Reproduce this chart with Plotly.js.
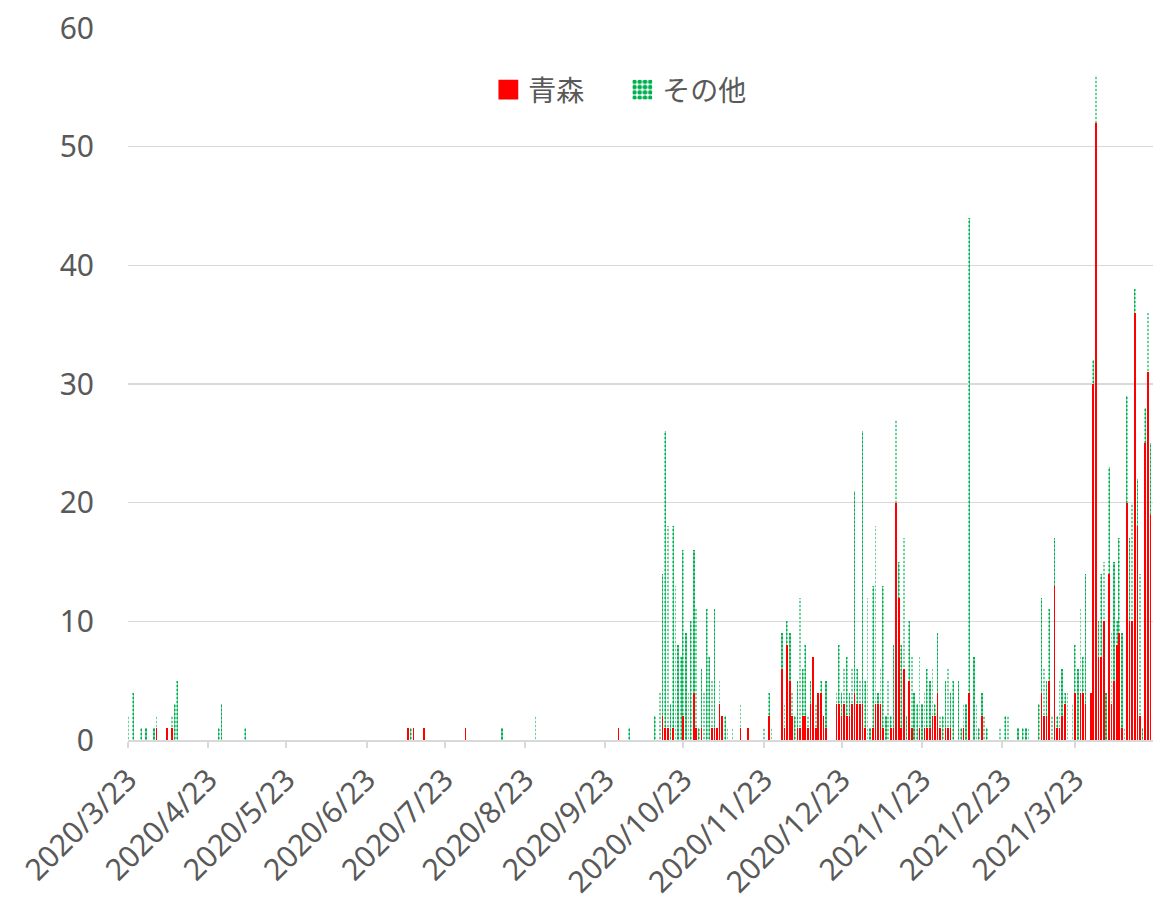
<!DOCTYPE html>
<html>
<head>
<meta charset="utf-8">
<script src="https://cdn.plot.ly/plotly-3.0.1.min.js"></script>
<style>
  html, body { margin: 0; padding: 0; background: #ffffff; }
  #chart { width: 1153px; height: 905px; }
</style>
</head>
<body>
<div id="chart"></div>
<script>
// Days with cases (all other days are zero)
const dates = [
  '2020-03-23','2020-03-25','2020-03-28','2020-03-30','2020-04-02','2020-04-03','2020-04-07','2020-04-09','2020-04-10','2020-04-11',
  '2020-04-27','2020-04-28','2020-05-07','2020-07-09','2020-07-10','2020-07-11','2020-07-15','2020-07-31','2020-08-14','2020-08-27',
  '2020-09-28','2020-10-02','2020-10-12','2020-10-14','2020-10-15','2020-10-16','2020-10-17','2020-10-18','2020-10-19','2020-10-20',
  '2020-10-21','2020-10-22','2020-10-23','2020-10-24','2020-10-25','2020-10-26','2020-10-27','2020-10-28','2020-10-29','2020-10-30',
  '2020-10-31','2020-11-01','2020-11-02','2020-11-03','2020-11-04','2020-11-05','2020-11-06','2020-11-07','2020-11-08','2020-11-09',
  '2020-11-11','2020-11-14','2020-11-17','2020-11-23','2020-11-25','2020-11-26','2020-11-30','2020-12-01','2020-12-02','2020-12-03',
  '2020-12-04','2020-12-05','2020-12-06','2020-12-07','2020-12-08','2020-12-09','2020-12-10','2020-12-11','2020-12-12','2020-12-13',
  '2020-12-14','2020-12-15','2020-12-16','2020-12-17','2020-12-21','2020-12-22','2020-12-23','2020-12-24','2020-12-25','2020-12-26',
  '2020-12-27','2020-12-28','2020-12-29','2020-12-30','2020-12-31','2021-01-01','2021-01-02','2021-01-03','2021-01-04','2021-01-05',
  '2021-01-06','2021-01-07','2021-01-08','2021-01-09','2021-01-10','2021-01-11','2021-01-12','2021-01-13','2021-01-14','2021-01-15',
  '2021-01-16','2021-01-17','2021-01-18','2021-01-19','2021-01-20','2021-01-21','2021-01-22','2021-01-23','2021-01-24','2021-01-25',
  '2021-01-26','2021-01-27','2021-01-28','2021-01-29','2021-01-30','2021-01-31','2021-02-01','2021-02-02','2021-02-03','2021-02-04',
  '2021-02-06','2021-02-07','2021-02-08','2021-02-09','2021-02-10','2021-02-12','2021-02-13','2021-02-14','2021-02-15','2021-02-16',
  '2021-02-17','2021-02-22','2021-02-24','2021-02-25','2021-03-01','2021-03-03','2021-03-04','2021-03-05','2021-03-09','2021-03-10',
  '2021-03-11','2021-03-12','2021-03-13','2021-03-14','2021-03-15','2021-03-16','2021-03-17','2021-03-18','2021-03-19','2021-03-20',
  '2021-03-22','2021-03-23','2021-03-24','2021-03-25','2021-03-26','2021-03-27','2021-03-29','2021-03-30','2021-03-31','2021-04-01',
  '2021-04-02','2021-04-03','2021-04-04','2021-04-05','2021-04-06','2021-04-07','2021-04-08','2021-04-09','2021-04-10','2021-04-11',
  '2021-04-12','2021-04-13','2021-04-14','2021-04-15','2021-04-16','2021-04-17','2021-04-18','2021-04-19','2021-04-20','2021-04-21'
];

// 青森
const aomori = [
  0,0,0,0,0,1,1,1,0,0,
  0,0,0,1,0,1,1,1,0,0,
  1,0,0,0,2,1,1,0,1,0,
  0,0,2,0,0,0,4,1,0,1,
  0,0,0,1,1,1,3,2,0,0,
  0,1,1,0,2,0,6,1,8,5,
  2,0,1,1,2,2,1,3,7,1,
  4,4,2,1,3,3,2,3,2,2,
  3,4,3,3,3,1,0,0,1,3,
  3,3,1,0,0,1,1,20,12,1,
  6,0,5,1,0,0,1,0,1,1,
  1,2,2,4,1,0,1,1,1,0,
  0,0,1,0,4,0,0,0,2,0,
  0,0,0,0,0,0,0,0,0,4,
  2,2,5,0,13,1,1,2,3,0,
  0,4,0,4,4,3,4,30,52,7,
  7,10,0,14,3,5,8,9,1,0,
  20,10,10,36,18,2,0,25,31,19
];

// その他
const other = [
  2,4,1,1,1,1,0,1,3,5,
  1,3,1,0,1,0,0,0,1,2,
  0,1,2,4,12,25,17,3,17,13,
  8,7,14,9,4,10,12,10,1,5,
  4,11,7,4,10,0,2,0,2,1,
  1,2,0,1,2,1,3,2,2,4,
  2,2,4,11,4,6,1,2,0,2,
  0,1,0,4,1,5,2,3,5,2,
  3,17,3,2,23,4,12,1,12,15,
  1,3,12,2,5,1,7,7,3,7,
  11,2,5,6,4,3,6,3,3,5,
  4,4,1,5,1,2,4,5,3,5,
  5,1,2,3,40,7,3,1,2,2,
  1,1,2,2,1,1,1,1,3,8,
  4,3,6,2,4,1,4,4,1,4,
  3,4,6,7,3,11,0,2,4,3,
  7,5,4,9,6,10,2,8,8,1,
  9,7,10,2,4,12,1,3,5,6
];

const tickVals = ['2020-03-23','2020-04-23','2020-05-23','2020-06-23','2020-07-23','2020-08-23','2020-09-23',
  '2020-10-23','2020-11-23','2020-12-23','2021-01-23','2021-02-23','2021-03-23'];
const tickText = ['2020/3/23','2020/4/23','2020/5/23','2020/6/23','2020/7/23','2020/8/23','2020/9/23',
  '2020/10/23','2020/11/23','2020/12/23','2021/1/23','2021/2/23','2021/3/23'];

const seriesNames = ['青森', 'その他'];

const fontFam = 'Noto Sans, Noto Sans CJK JP, sans-serif';
const textColor = '#595959';
const gridColor = '#d9d9d9';

const traces = [
  {
    type: 'bar', name: seriesNames[0], x: dates, y: aomori,
    marker: { color: '#ff0000', line: { width: 0, color: '#ff0000' } },
    hoverinfo: 'x+y+name'
  },
  {
    type: 'bar', name: seriesNames[1], x: dates, y: other,
    marker: {
      color: '#00b050', line: { width: 0, color: '#00b050' },
      pattern: { shape: '.', fgcolor: '#00b050', bgcolor: '#ffffff', size: 4, solidity: 0.6, fillmode: 'replace' }
    },
    hoverinfo: 'x+y+name'
  }
];

const layout = {
  width: 1153, height: 905,
  margin: { l: 128, r: 0, t: 28, b: 165 },
  paper_bgcolor: '#ffffff', plot_bgcolor: '#ffffff',
  barmode: 'stack', bargap: 0.35,
  font: { family: fontFam, size: 30, color: textColor },
  showlegend: true,
  legend: {
    orientation: 'h', x: 0.4823, xanchor: 'center', y: 0.913, yanchor: 'middle',
    font: { family: 'Noto Sans CJK JP, sans-serif', size: 28, color: textColor },
    bgcolor: 'rgba(0,0,0,0)', traceorder: 'normal', entrywidth: 89
  },
  xaxis: {
    type: 'date', range: ['2020-03-23', '2021-04-22'],
    tickmode: 'array', tickvals: tickVals, ticktext: tickText, tickangle: -45,
    showgrid: false, zeroline: false,
    showline: true, linecolor: gridColor, linewidth: 2,
    ticks: 'outside', ticklen: 6, tickwidth: 2, tickcolor: gridColor,
    tickfont: { family: fontFam, size: 30, color: textColor },
    ticklabelstandoff: 2, fixedrange: true
  },
  yaxis: {
    range: [0, 60], dtick: 10, tick0: 0,
    showgrid: true, gridcolor: gridColor, gridwidth: 1.5,
    zeroline: false, showline: false, ticks: '',
    tickfont: { family: fontFam, size: 30, color: textColor },
    ticklabelstandoff: 33, fixedrange: true
  }
};

Plotly.newPlot('chart', traces, layout, { displayModeBar: false, staticPlot: true }).then(function (gd) {
  // enlarge legend swatches to match the reference's bigger squares
  gd.querySelectorAll('.legend .legendpoints path').forEach(function (p) {
    p.setAttribute('transform', 'translate(20,0) scale(1.65)');
  });
});
</script>
</body>
</html>
